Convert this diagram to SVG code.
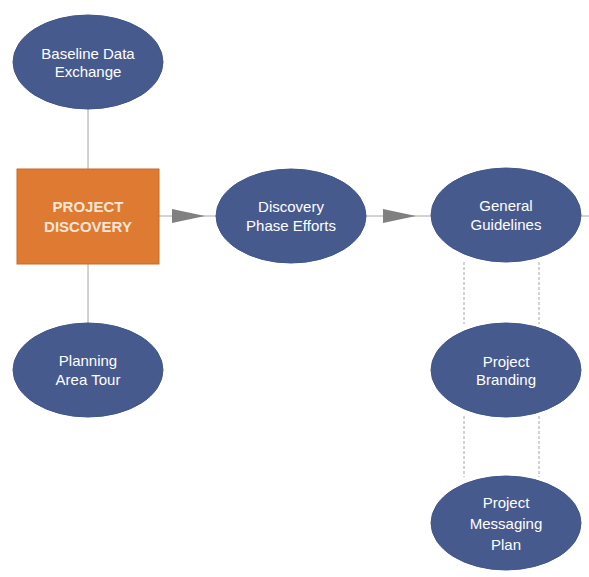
<svg xmlns="http://www.w3.org/2000/svg" width="589" height="577" viewBox="0 0 589 577">
<style>
.bg{fill:#ffffff}
.ell{fill:#475a8e;stroke:#42558a;stroke-width:1}
.box{fill:#de7a31;stroke:#c96a26;stroke-width:1}
.t{font-family:"Liberation Sans",Arial,sans-serif;font-size:15px;fill:#ffffff;text-anchor:middle}
.tb{font-family:"Liberation Sans",Arial,sans-serif;font-size:15px;font-weight:bold;fill:#f7e6d6;text-anchor:middle}
.ln{stroke:#a6a6a6;stroke-width:1;fill:none}
.dash{stroke:#a6a6a6;stroke-width:1;fill:none;stroke-dasharray:3,2}
.ah{fill:#808080}
</style>
<rect class="bg" x="0" y="0" width="589" height="577"/>
<g id="connectors">
<line class="ln" x1="88" y1="109" x2="88" y2="169"/>
<line class="ln" x1="88" y1="264" x2="88" y2="323"/>
<line class="ln" x1="159" y1="216" x2="216" y2="216"/>
<polygon class="ah" points="172,209 205,216 172,223"/>
<line class="ln" x1="365" y1="216" x2="431" y2="216"/>
<polygon class="ah" points="383,209 416,216 383,223"/>
<line class="ln" x1="581" y1="216" x2="589" y2="216"/>
<line class="dash" x1="464" y1="262" x2="464" y2="324"/>
<line class="dash" x1="539" y1="262" x2="539" y2="324"/>
<line class="dash" x1="464" y1="416" x2="464" y2="477"/>
<line class="dash" x1="539" y1="416" x2="539" y2="477"/>
</g>
<g id="baseline">
<ellipse class="ell" cx="88" cy="62" rx="75" ry="47"/>
<text class="t" x="88" y="58.5">Baseline Data</text>
<text class="t" x="88" y="77">Exchange</text>
</g>
<g id="project-discovery">
<rect class="box" x="17" y="169" width="142" height="95"/>
<text class="tb" x="88" y="212">PROJECT</text>
<text class="tb" x="88" y="232">DISCOVERY</text>
</g>
<g id="planning">
<ellipse class="ell" cx="88" cy="370" rx="75" ry="47"/>
<text class="t" x="88" y="366">Planning</text>
<text class="t" x="88" y="385">Area Tour</text>
</g>
<g id="discovery-phase">
<ellipse class="ell" cx="291" cy="216" rx="75" ry="47"/>
<text class="t" x="291" y="212">Discovery</text>
<text class="t" x="291" y="231">Phase Efforts</text>
</g>
<g id="general-guidelines">
<ellipse class="ell" cx="506" cy="215" rx="75" ry="47"/>
<text class="t" x="506" y="211">General</text>
<text class="t" x="506" y="230">Guidelines</text>
</g>
<g id="project-branding">
<ellipse class="ell" cx="506" cy="370" rx="75" ry="47"/>
<text class="t" x="506" y="367">Project</text>
<text class="t" x="506" y="385">Branding</text>
</g>
<g id="project-messaging">
<ellipse class="ell" cx="506" cy="523" rx="75" ry="47"/>
<text class="t" x="506" y="508">Project</text>
<text class="t" x="506" y="529">Messaging</text>
<text class="t" x="506" y="550">Plan</text>
</g>
</svg>
